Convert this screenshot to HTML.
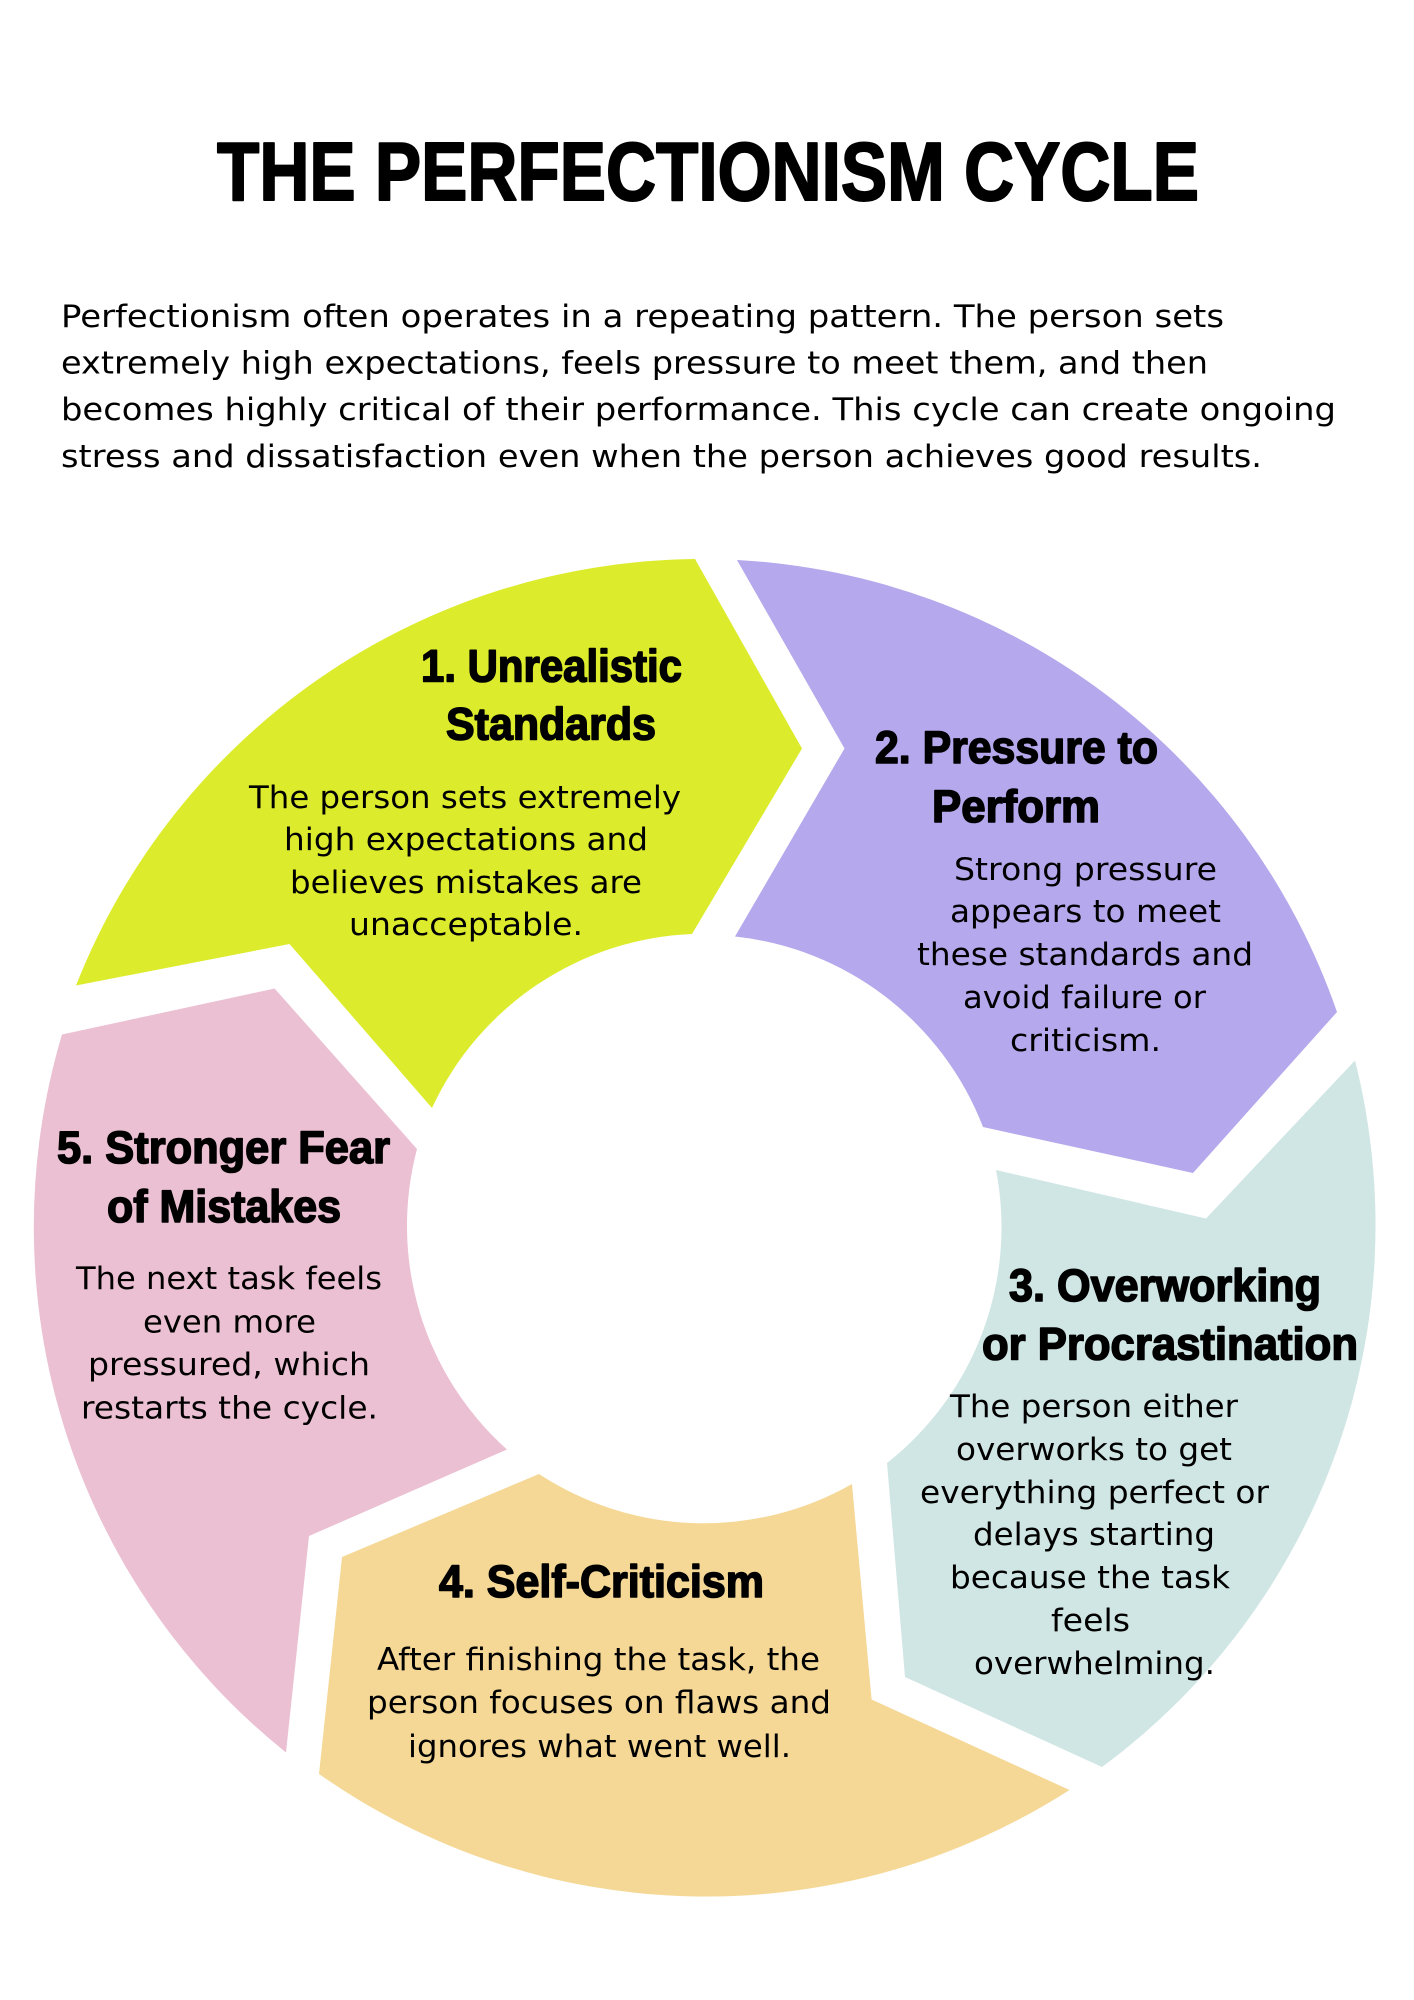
<!DOCTYPE html>
<html>
<head>
<meta charset="utf-8">
<style>
html,body{margin:0;padding:0;background:#fff}
svg{display:block}
text{font-family:"Liberation Sans",sans-serif;fill:#000}
.t{font-weight:bold;font-size:83px;stroke:#000;stroke-width:2px;stroke-linejoin:round}
.p{font-family:"DejaVu Sans",sans-serif;font-size:31.5px}
.h{font-weight:bold;font-size:45px;stroke:#000;stroke-width:1.6px;stroke-linejoin:round}
.b{font-family:"DejaVu Sans",sans-serif;font-size:31px}
</style>
</head>
<body>
<svg width="1414" height="2000" viewBox="0 0 1414 2000" xmlns="http://www.w3.org/2000/svg">
<rect width="1414" height="2000" fill="#fff"/>

<path fill="#DCEC2C" d="M695 559 L802 748.5 L692 934 A300 300 0 0 0 432 1108 L289.5 944 L76 985.5 A673 673 0 0 1 695 559 Z"/>
<path fill="#B5A8EC" d="M737 560 A673 673 0 0 1 1337 1012 L1193 1173 L983 1127 A300 300 0 0 0 735 936.5 L844.5 748.5 Z"/>
<path fill="#D0E6E4" d="M1355 1060.5 A673 673 0 0 1 1102 1767 L905 1677 L887 1463 A300 300 0 0 0 996 1170 L1206 1218.5 Z"/>
<path fill="#F5D896" d="M1069.5 1790 A673 673 0 0 1 319 1774 L342 1557 L539 1474 A300 300 0 0 0 852 1484 L871.6 1699.5 Z"/>
<path fill="#EBC0D2" d="M62 1034.5 L274.6 988.5 L417 1149 A300 300 0 0 0 507 1449.5 L309 1536 L286 1752.5 A673 673 0 0 1 62 1034.5 Z"/>

<text class="t" x="217" y="200" textLength="982" lengthAdjust="spacingAndGlyphs">THE PERFECTIONISM CYCLE</text>

<text class="p" x="61" y="327" textLength="1163" lengthAdjust="spacingAndGlyphs">Perfectionism often operates in a repeating pattern. The person sets</text>
<text class="p" x="61" y="373.5" textLength="1147" lengthAdjust="spacingAndGlyphs">extremely high expectations, feels pressure to meet them, and then</text>
<text class="p" x="61" y="420" textLength="1275" lengthAdjust="spacingAndGlyphs">becomes highly critical of their performance. This cycle can create ongoing</text>
<text class="p" x="61" y="467" textLength="1201" lengthAdjust="spacingAndGlyphs">stress and dissatisfaction even when the person achieves good results.</text>

<text class="h" x="421" y="681.5" textLength="261" lengthAdjust="spacingAndGlyphs">1. Unrealistic</text>
<text class="h" x="446" y="739.5" textLength="210" lengthAdjust="spacingAndGlyphs">Standards</text>
<text class="b" x="249" y="808" textLength="432" lengthAdjust="spacingAndGlyphs">The person sets extremely</text>
<text class="b" x="284" y="850" textLength="364" lengthAdjust="spacingAndGlyphs">high expectations and</text>
<text class="b" x="290" y="893" textLength="352" lengthAdjust="spacingAndGlyphs">believes mistakes are</text>
<text class="b" x="349" y="935" textLength="234" lengthAdjust="spacingAndGlyphs">unacceptable.</text>

<text class="h" x="875" y="763" textLength="283" lengthAdjust="spacingAndGlyphs">2. Pressure to</text>
<text class="h" x="932" y="822" textLength="168" lengthAdjust="spacingAndGlyphs">Perform</text>
<text class="b" x="954" y="880" textLength="263" lengthAdjust="spacingAndGlyphs">Strong pressure</text>
<text class="b" x="950" y="922" textLength="271" lengthAdjust="spacingAndGlyphs">appears to meet</text>
<text class="b" x="917" y="965" textLength="336" lengthAdjust="spacingAndGlyphs">these standards and</text>
<text class="b" x="963" y="1008" textLength="243" lengthAdjust="spacingAndGlyphs">avoid failure or</text>
<text class="b" x="1010" y="1051" textLength="151" lengthAdjust="spacingAndGlyphs">criticism.</text>

<text class="h" x="1009" y="1301" textLength="312" lengthAdjust="spacingAndGlyphs">3. Overworking</text>
<text class="h" x="982" y="1359.5" textLength="376" lengthAdjust="spacingAndGlyphs">or Procrastination</text>
<text class="b" x="950" y="1417" textLength="288" lengthAdjust="spacingAndGlyphs">The person either</text>
<text class="b" x="956" y="1460" textLength="276" lengthAdjust="spacingAndGlyphs">overworks to get</text>
<text class="b" x="920" y="1503" textLength="349" lengthAdjust="spacingAndGlyphs">everything perfect or</text>
<text class="b" x="973" y="1545" textLength="242" lengthAdjust="spacingAndGlyphs">delays starting</text>
<text class="b" x="950" y="1588" textLength="280" lengthAdjust="spacingAndGlyphs">because the task</text>
<text class="b" x="1051" y="1631" textLength="79" lengthAdjust="spacingAndGlyphs">feels</text>
<text class="b" x="974" y="1674" textLength="241" lengthAdjust="spacingAndGlyphs">overwhelming.</text>

<text class="h" x="439" y="1597" textLength="325" lengthAdjust="spacingAndGlyphs">4. Self-Criticism</text>
<text class="b" x="377" y="1670" textLength="443" lengthAdjust="spacingAndGlyphs">After finishing the task, the</text>
<text class="b" x="367" y="1713" textLength="464" lengthAdjust="spacingAndGlyphs">person focuses on flaws and</text>
<text class="b" x="408" y="1757" textLength="383" lengthAdjust="spacingAndGlyphs">ignores what went well.</text>

<text class="h" x="57" y="1163" textLength="333" lengthAdjust="spacingAndGlyphs">5. Stronger Fear</text>
<text class="h" x="107" y="1222" textLength="234" lengthAdjust="spacingAndGlyphs">of Mistakes</text>
<text class="b" x="76" y="1289" textLength="306" lengthAdjust="spacingAndGlyphs">The next task feels</text>
<text class="b" x="143" y="1332.5" textLength="173" lengthAdjust="spacingAndGlyphs">even more</text>
<text class="b" x="88" y="1375" textLength="282" lengthAdjust="spacingAndGlyphs">pressured, which</text>
<text class="b" x="81" y="1418.5" textLength="297" lengthAdjust="spacingAndGlyphs">restarts the cycle.</text>
</svg>
</body>
</html>
